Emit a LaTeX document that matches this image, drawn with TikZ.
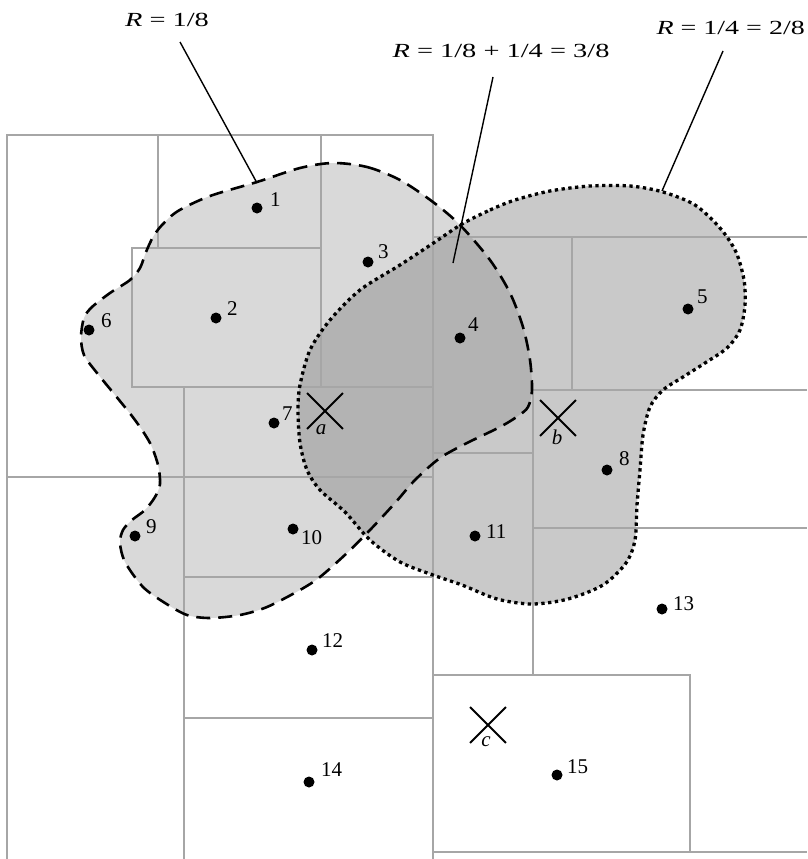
\documentclass[tikz,border=0pt]{standalone}
\usepackage{fontspec}
\setmainfont{Liberation Serif}
\usetikzlibrary{shapes.misc}
\definecolor{gridc}{HTML}{A6A6A6}
\definecolor{fillA}{HTML}{D9D9D9}
\definecolor{fillB}{HTML}{C9C9C9}
\definecolor{fillAB}{HTML}{B3B3B3}
\tikzset{
  outerline/.style={draw=gridc, line width=2pt},
  innerline/.style={draw=gridc, line width=1.2pt},
  dashbound/.style={draw=black, line width=2.6pt, dash pattern=on 14pt off 8pt},
  dotbound/.style={draw=black, line width=3.3pt, dash pattern=on 3.3pt off 3.5pt},
  dot/.style={circle, fill=black, inner sep=0pt, minimum size=11pt},
  numlab/.style={anchor=base west, inner sep=0pt, font=\fontsize{21}{24}\selectfont},
  letlab/.style={inner sep=0pt, font=\fontsize{21}{24}\selectfont\itshape},
  toplab/.style={inner sep=0pt, font=\fontsize{20}{24}\selectfont},
  crossmark/.style={draw=black, cross out, line width=1.9pt, minimum size=34pt, inner sep=0pt},
  leader/.style={draw=black, line width=1.4pt}
}
\begin{document}
\begin{tikzpicture}[x=1pt,y=-1pt]
\useasboundingbox (0,0) rectangle (807,859);
% fills
\fill[fillA] plot[smooth cycle] coordinates {(333,163) (367,167) (400,180) (433,202) (460,225) (490,260) (510,293) (523,327) (530,360) (532,390) (528,407) (518,416) (500,427) (467,443) (440,458) (415,480) (395,503) (370,530) (347,553) (320,577) (300,590) (267,607) (240,615) (210,618) (187,615) (165,603) (143,587) (125,562) (120,543) (123,530) (132,520) (145,510) (155,497) (160,484) (158,465) (150,443) (135,420) (115,395) (97,373) (84,355) (81,337) (84,318) (92,307) (110,293) (130,280) (140,268) (146,252) (153,237) (162,225) (178,211) (210,196) (257,182) (300,168)};
\fill[fillB] plot[smooth cycle] coordinates {(462,224) (490,210) (515,200) (550,191) (590,186) (630,186) (663,192) (695,205) (720,228) (736,252) (744,280) (745,305) (740,330) (727,348) (705,363) (683,377) (663,390) (650,407) (643,435) (640,470) (637,505) (635,540) (626,563) (603,585) (568,599) (532,604) (497,599) (462,585) (433,575) (400,562) (370,540) (345,512) (320,490) (307,470) (300,443) (298,410) (300,385) (310,350) (330,320) (360,290) (400,265) (435,242)};
\begin{scope}
\clip plot[smooth cycle] coordinates {(333,163) (367,167) (400,180) (433,202) (460,225) (490,260) (510,293) (523,327) (530,360) (532,390) (528,407) (518,416) (500,427) (467,443) (440,458) (415,480) (395,503) (370,530) (347,553) (320,577) (300,590) (267,607) (240,615) (210,618) (187,615) (165,603) (143,587) (125,562) (120,543) (123,530) (132,520) (145,510) (155,497) (160,484) (158,465) (150,443) (135,420) (115,395) (97,373) (84,355) (81,337) (84,318) (92,307) (110,293) (130,280) (140,268) (146,252) (153,237) (162,225) (178,211) (210,196) (257,182) (300,168)};
\fill[fillAB] plot[smooth cycle] coordinates {(462,224) (490,210) (515,200) (550,191) (590,186) (630,186) (663,192) (695,205) (720,228) (736,252) (744,280) (745,305) (740,330) (727,348) (705,363) (683,377) (663,390) (650,407) (643,435) (640,470) (637,505) (635,540) (626,563) (603,585) (568,599) (532,604) (497,599) (462,585) (433,575) (400,562) (370,540) (345,512) (320,490) (307,470) (300,443) (298,410) (300,385) (310,350) (330,320) (360,290) (400,265) (435,242)};
\end{scope}
% grid
\draw[outerline] (7,859) -- (7,135) -- (433,135) -- (433,859);
\draw[outerline] (433,237) -- (807,237);
\draw[outerline] (433,852) -- (807,852);
\draw[innerline] (158,135) -- (158,248);
\draw[innerline] (321,135) -- (321,387);
\draw[innerline] (321,248) -- (132,248) -- (132,387) -- (433,387);
\draw[innerline] (184,387) -- (184,859);
\draw[innerline] (7,477) -- (433,477);
\draw[innerline] (184,577) -- (433,577);
\draw[innerline] (184,718) -- (433,718);
\draw[innerline] (572,237) -- (572,390);
\draw[innerline] (807,390) -- (533,390) -- (533,675);
\draw[innerline] (433,453) -- (533,453);
\draw[innerline] (533,528) -- (807,528);
\draw[innerline] (433,675) -- (690,675) -- (690,852);
% boundaries
\draw[dashbound] plot[smooth cycle] coordinates {(333,163) (367,167) (400,180) (433,202) (460,225) (490,260) (510,293) (523,327) (530,360) (532,390) (528,407) (518,416) (500,427) (467,443) (440,458) (415,480) (395,503) (370,530) (347,553) (320,577) (300,590) (267,607) (240,615) (210,618) (187,615) (165,603) (143,587) (125,562) (120,543) (123,530) (132,520) (145,510) (155,497) (160,484) (158,465) (150,443) (135,420) (115,395) (97,373) (84,355) (81,337) (84,318) (92,307) (110,293) (130,280) (140,268) (146,252) (153,237) (162,225) (178,211) (210,196) (257,182) (300,168)};
\draw[dotbound] plot[smooth cycle] coordinates {(462,224) (490,210) (515,200) (550,191) (590,186) (630,186) (663,192) (695,205) (720,228) (736,252) (744,280) (745,305) (740,330) (727,348) (705,363) (683,377) (663,390) (650,407) (643,435) (640,470) (637,505) (635,540) (626,563) (603,585) (568,599) (532,604) (497,599) (462,585) (433,575) (400,562) (370,540) (345,512) (320,490) (307,470) (300,443) (298,410) (300,385) (310,350) (330,320) (360,290) (400,265) (435,242)};
% points
\node[dot] (p1) at (257,208) {};
\node[dot] (p2) at (216,318) {};
\node[dot] (p3) at (368,262) {};
\node[dot] (p4) at (460,338) {};
\node[dot] (p5) at (688,309) {};
\node[dot] (p6) at (89,330) {};
\node[dot] (p7) at (274,423) {};
\node[dot] (p8) at (607,470) {};
\node[dot] (p9) at (135,536) {};
\node[dot] (p10) at (293,529) {};
\node[dot] (p11) at (475,536) {};
\node[dot] (p12) at (312,650) {};
\node[dot] (p13) at (662,609) {};
\node[dot] (p14) at (309,782) {};
\node[dot] (p15) at (557,775) {};
\node[numlab] (l1) at (270,206) {1};
\node[numlab] (l2) at (227,315) {2};
\node[numlab] (l3) at (378,258) {3};
\node[numlab] (l4) at (468,331) {4};
\node[numlab] (l5) at (697,303) {5};
\node[numlab] (l6) at (101,327) {6};
\node[numlab] (l7) at (282,420) {7};
\node[numlab] (l8) at (619,465) {8};
\node[numlab] (l9) at (146,533) {9};
\node[numlab] (l10) at (301,544) {10};
\node[numlab] (l11) at (486,538) {11};
\node[numlab] (l12) at (322,647) {12};
\node[numlab] (l13) at (673,610) {13};
\node[numlab] (l14) at (321,776) {14};
\node[numlab] (l15) at (567,773) {15};
% centres
\node[crossmark] (a) at (325,411) {};
\node[crossmark] (b) at (558,418) {};
\node[crossmark] (c) at (488,725) {};
\node[letlab] (la) at (321,430) {a};
\node[letlab] (lb) at (557,437) {b};
\node[letlab] (lc) at (486,742) {c};
% labels and leaders
\node[toplab, anchor=base] (r1) at (167,27) {\scalebox{1.42}[1]{\textit{R} = 1/8}};
\node[toplab, anchor=base] (r3) at (501,58) {\scalebox{1.42}[1]{\textit{R} = 1/8 + 1/4 = 3/8}};
\node[toplab, anchor=base east] (r2) at (805,35) {\scalebox{1.40}[1]{\textit{R} = 1/4 = 2/8}};
\coordinate (t1) at (180,42);
\coordinate (e1) at (257,183);
\coordinate (t3) at (493,77);
\coordinate (e3) at (453,263);
\coordinate (t2) at (723,51);
\coordinate (e2) at (662,191);
\draw[leader] (t1) -- (e1);
\draw[leader] (t3) -- (e3);
\draw[leader] (t2) -- (e2);
\end{tikzpicture}
\end{document}
